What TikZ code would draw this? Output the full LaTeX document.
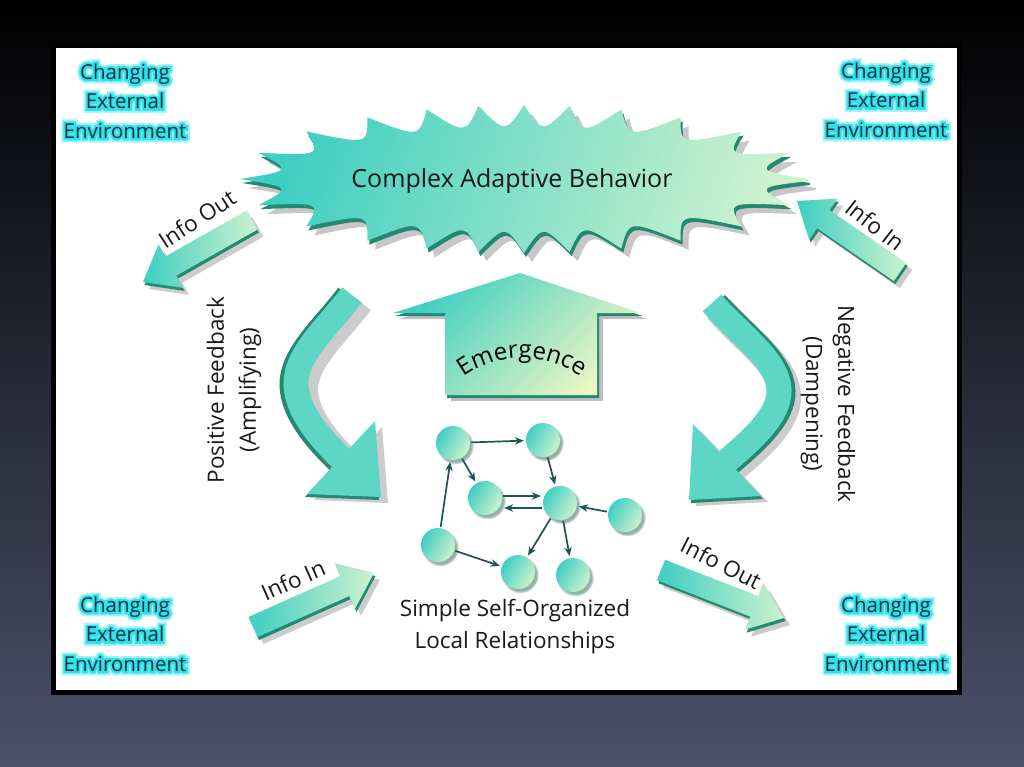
\documentclass[tikz,border=0pt]{standalone}
\usepackage{fontspec}
\setmainfont{Open Sans}
\newfontfamily\haloA[FakeBold=40]{Open Sans}
\newfontfamily\haloB[FakeBold=22]{Open Sans}
\usetikzlibrary{calc,arrows.meta,shadows,decorations.text}
\definecolor{bgbot}{RGB}{76,81,108}
\definecolor{tealA}{RGB}{62,206,194}
\definecolor{paleA}{RGB}{204,242,206}
\definecolor{paleY}{RGB}{238,246,196}
\definecolor{tealdark}{RGB}{36,136,114}
\definecolor{shaftC}{RGB}{94,214,198}
\definecolor{netC}{RGB}{28,84,88}
\definecolor{envtxt}{RGB}{12,48,66}
\definecolor{envglow}{RGB}{46,226,234}
\definecolor{envhalo}{RGB}{165,243,247}

\newcommand\glowlabel[3]{%
  \node[envtext, text=envhalo, font=\haloA\envsize] (#2h) at (#1) {#3};
  \node[envtext, text=envglow, font=\haloB\envsize] (#2g) at (#1) {#3};
  \node[envtext] (#2) at (#1) {#3};}
\newcommand\envsize{\fontsize{20.5}{29.5}\selectfont}

\newcommand\fatarrow[6]{%
  \coordinate (#1t) at (#2);
  \coordinate (#1p) at (#3);
  \coordinate (#1h) at ($(#1p)!#6!(#1t)$);
  \coordinate (#1a) at ($(#1t)!#4!90:(#1p)$);
  \coordinate (#1b) at ($(#1h)!#4!90:(#1p)$);
  \coordinate (#1c) at ($(#1h)!#5!90:(#1p)$);
  \coordinate (#1d) at ($(#1h)!#5!-90:(#1p)$);
  \coordinate (#1e) at ($(#1h)!#4!-90:(#1p)$);
  \coordinate (#1f) at ($(#1t)!#4!-90:(#1p)$);
  \fill[black, opacity=.2, transform canvas={xshift=6pt,yshift=-7pt}] (#1a) -- (#1b) -- (#1c) -- (#1p) -- (#1d) -- (#1e) -- (#1f) -- cycle;
  \fill[tealdark, transform canvas={xshift=1.5pt,yshift=-3pt}] (#1a) -- (#1b) -- (#1c) -- (#1p) -- (#1d) -- (#1e) -- (#1f) -- cycle;
  \shade[left color=tealA, right color=paleA] (#1a) -- (#1b) -- (#1c) -- (#1p) -- (#1d) -- (#1e) -- (#1f) -- cycle;}

\def\burstpath{(808,181) \foreach \i [evaluate=\i as \tb using {(\i+0.5)*15+11.5*sin((\i+0.5)*30)}, evaluate=\i as \tc using {(\i+1)*15+11.5*sin((\i+1)*30)}] in {0,...,23} { .. controls ({524+236*cos(\tb)},{179+46*sin(\tb)}) .. ({524+284*cos(\tc)},{179+74*sin(\tc)}) } -- cycle}
\def\posshaft{(352,295) .. controls (325,330) and (295,355) .. (296,385) .. controls (297,410) and (318,437) .. (345,462)}
\def\poshead{(307,494) -- (381,497) -- (375,421) -- cycle}
\def\negshaft{(712,303) .. controls (740,335) and (778,360) .. (779,390) .. controls (780,415) and (752,440) .. (722,465)}
\def\neghead{(693,424) -- (761,496) -- (689,500) -- cycle}
\def\emgpath{(445,395) -- (445,313) -- (393,313) -- (520,273) -- (641,313) -- (597,313) -- (597,395) -- cycle}
\newcommand\emgfont{\fontsize{24}{24}\selectfont}

\begin{document}
\begin{tikzpicture}[x=1pt,y=-1pt,
  lbl/.style={font=\fontsize{22.5}{32}\selectfont, text=black!90, align=center, inner sep=0pt},
  titlef/.style={font=\fontsize{25}{30}\selectfont, text=black!90, inner sep=0pt},
  infof/.style={font=\fontsize{22.5}{26}\selectfont, text=black!90, inner sep=0pt},
  envtext/.style={font=\envsize, text=envtxt, align=center, inner sep=0pt},
  ball/.style={circle, minimum size=34pt, inner sep=0pt, left color=tealA, right color=paleA, shading angle=60,
    circular drop shadow={shadow xshift=2pt, shadow yshift=-2.5pt, opacity=.45, fill=tealdark!60!black}},
  link/.style={draw=netC, line width=1.7pt, -{Stealth[length=9pt,width=7.5pt]}, shorten >=2pt, shorten <=1pt}]
\useasboundingbox (0,0) rectangle (1024,767);
% background
\shade[top color=black, middle color=bgbot!40!black, bottom color=bgbot] (0,0) rectangle (1024,767);
\fill[white] (55,48) rectangle (957,690);
\draw[black, line width=5pt] (53,46) rectangle (959,692);

% starburst
\fill[black, opacity=.22, transform canvas={xshift=8pt,yshift=-9pt}] \burstpath;
\fill[tealdark, transform canvas={xshift=2pt,yshift=-4pt}] \burstpath;
\shade[left color=tealA, right color=paleA, shading angle=70] \burstpath;
\node[titlef] (cab) at (512,181) {Complex Adaptive Behavior};

% straight info arrows
\fatarrow{io1}{252,220}{143,282}{11pt}{25pt}{32pt}
\fatarrow{ii1}{900,272}{797,201}{11pt}{25pt}{32pt}
\fatarrow{ii2}{253,627}{374,573}{11pt}{25pt}{32pt}
\fatarrow{io2}{661,570}{784,618}{11pt}{25pt}{32pt}
\node[infof, rotate=33] (lio1) at (197,219) {Info Out};
\node[infof, rotate=-38] (lii1) at (875,225) {Info In};
\node[infof, rotate=24] (lii2) at (293,580) {Info In};
\node[infof, rotate=-27] (lio2) at (721,563) {Info Out};

% curved feedback arrows
\begin{scope}[transparency group, opacity=.2]
  \draw[black, line width=30pt, transform canvas={xshift=7pt,yshift=-6pt}] \posshaft;
  \fill[black, transform canvas={xshift=7pt,yshift=-6pt}] \poshead;
  \draw[black, line width=30pt, transform canvas={xshift=7pt,yshift=-6pt}] \negshaft;
  \fill[black, transform canvas={xshift=7pt,yshift=-6pt}] \neghead;
\end{scope}
\draw[tealdark, line width=27pt, transform canvas={xshift=-3pt,yshift=-1pt}] \posshaft;
\fill[tealdark, transform canvas={xshift=-2pt,yshift=-3pt}] \poshead;
\draw[shaftC, line width=25pt] \posshaft;
\fill[shaftC] \poshead;
\draw[tealdark, line width=27pt, transform canvas={xshift=3pt,yshift=-1pt}] \negshaft;
\fill[tealdark, transform canvas={xshift=2pt,yshift=-3pt}] \neghead;
\draw[shaftC, line width=25pt] \negshaft;
\fill[shaftC] \neghead;
\node[lbl, rotate=90] (pf) at (234,390) {Positive Feedback\\(Amplifying)};
\node[lbl, rotate=-90] (nf) at (828,404) {Negative Feedback\\(Dampening)};

% emergence arrow
\fill[black, opacity=.25, transform canvas={xshift=6pt,yshift=-6pt}] \emgpath;
\fill[tealdark, transform canvas={xshift=2pt,yshift=-3pt}] \emgpath;
\shade[left color=tealA, right color=paleY, shading angle=45] \emgpath;
\path[decorate, decoration={text along path, text align=center, text={|\emgfont|Emergence}}] (422,458) arc[start angle=180, end angle=360, radius=100];

% network
\node[ball] (A) at (453,443) {};
\node[ball] (B) at (543,440) {};
\node[ball] (C) at (485,498) {};
\node[ball] (D) at (560,503) {};
\node[ball] (E) at (625,515) {};
\node[ball] (F) at (438,545) {};
\node[ball] (G) at (518,572) {};
\node[ball] (H) at (573,575) {};
\draw[link] (A) -- (B);
\draw[link] (A) -- (C);
\draw[link] (B) -- (D);
\draw[link] ([yshift=2pt]C.east) -- ([yshift=2pt]C.east -| D.west);
\draw[link] ([yshift=-5pt]D.west) -- ([yshift=-5pt]D.west -| C.east);
\draw[link] (E) -- (D);
\draw[link] (D) -- (G);
\draw[link] (D) -- (H);
\draw[link] (F) -- (A);
\draw[link] (F) -- (G);
\node[lbl] (sso) at (515,627) {Simple Self-Organized\\Local Relationships};

% corner labels
\glowlabel{125,101}{tl}{Changing\\External\\Environment}
\glowlabel{886,100}{tr}{Changing\\External\\Environment}
\glowlabel{125,634}{bl}{Changing\\External\\Environment}
\glowlabel{886,634}{br}{Changing\\External\\Environment}
\end{tikzpicture}
\end{document}
